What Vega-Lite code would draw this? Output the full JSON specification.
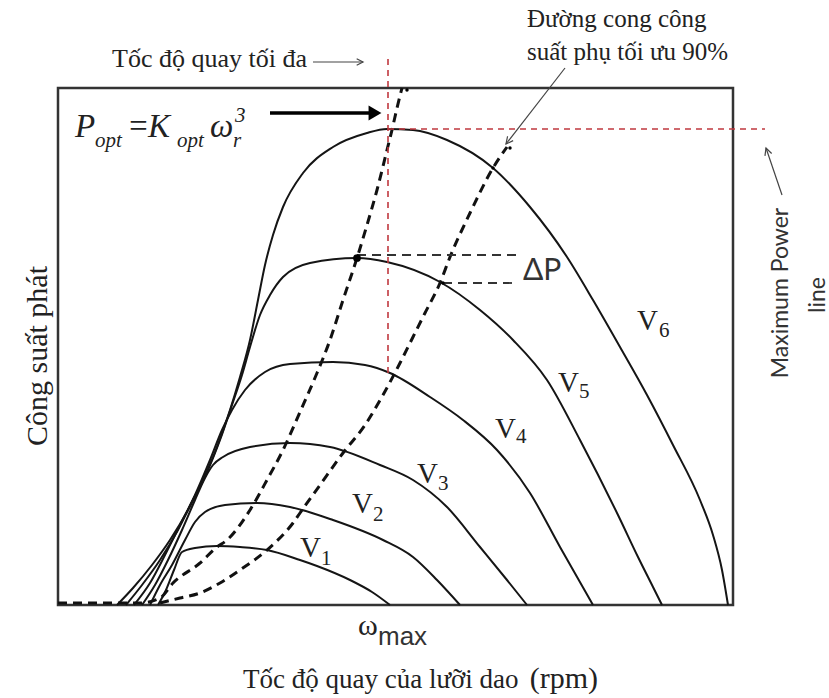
{
  "$schema": "https://vega.github.io/schema/vega-lite/v6.json",
  "width": 675,
  "height": 517,
  "autosize": {"type": "none"},
  "padding": {"left": 58, "top": 88, "right": 96, "bottom": 93},
  "background": "white",
  "config": {"view": {"stroke": "#333", "strokeWidth": 2.5}},
  "encoding": {
    "x": {"field": "x", "type": "quantitative", "scale": {"domain": [0, 675], "nice": false, "zero": false}, "axis": null},
    "y": {"field": "y", "type": "quantitative", "scale": {"domain": [0, 517], "nice": false, "zero": false}, "axis": null}
  },
  "layer": [
    {
      "data": {"values": [
        {"c":"V1","x":100,"y":0},{"c":"V1","x":108,"y":15},{"c":"V1","x":116,"y":35},{"c":"V1","x":124,"y":53},{"c":"V1","x":137,"y":57},{"c":"V1","x":159,"y":59},{"c":"V1","x":182,"y":58},{"c":"V1","x":209,"y":55},{"c":"V1","x":242,"y":45},{"c":"V1","x":259,"y":39},{"c":"V1","x":292,"y":25},{"c":"V1","x":314,"y":13},{"c":"V1","x":332,"y":0},
        {"c":"V2","x":92,"y":0},{"c":"V2","x":102,"y":20},{"c":"V2","x":114,"y":40},{"c":"V2","x":127,"y":65},{"c":"V2","x":137,"y":83},{"c":"V2","x":147,"y":93},{"c":"V2","x":167,"y":100},{"c":"V2","x":199,"y":102},{"c":"V2","x":232,"y":98},{"c":"V2","x":275,"y":85},{"c":"V2","x":325,"y":65},{"c":"V2","x":355,"y":48},{"c":"V2","x":379,"y":25},{"c":"V2","x":402,"y":0},
        {"c":"V3","x":84,"y":0},{"c":"V3","x":97,"y":20},{"c":"V3","x":110,"y":45},{"c":"V3","x":124,"y":75},{"c":"V3","x":137,"y":105},{"c":"V3","x":147,"y":127},{"c":"V3","x":155,"y":140},{"c":"V3","x":165,"y":148},{"c":"V3","x":192,"y":158},{"c":"V3","x":232,"y":162},{"c":"V3","x":272,"y":158},{"c":"V3","x":322,"y":140},{"c":"V3","x":355,"y":125},{"c":"V3","x":389,"y":98},{"c":"V3","x":422,"y":58},{"c":"V3","x":449,"y":25},{"c":"V3","x":469,"y":0},
        {"c":"V4","x":76,"y":0},{"c":"V4","x":92,"y":22},{"c":"V4","x":107,"y":50},{"c":"V4","x":122,"y":80},{"c":"V4","x":137,"y":110},{"c":"V4","x":152,"y":145},{"c":"V4","x":164,"y":175},{"c":"V4","x":174,"y":195},{"c":"V4","x":187,"y":215},{"c":"V4","x":207,"y":233},{"c":"V4","x":232,"y":241},{"c":"V4","x":275,"y":243},{"c":"V4","x":307,"y":240},{"c":"V4","x":332,"y":232},{"c":"V4","x":372,"y":208},{"c":"V4","x":405,"y":185},{"c":"V4","x":439,"y":155},{"c":"V4","x":472,"y":112},{"c":"V4","x":502,"y":58},{"c":"V4","x":535,"y":0},
        {"c":"V5","x":68,"y":0},{"c":"V5","x":84,"y":20},{"c":"V5","x":102,"y":45},{"c":"V5","x":120,"y":75},{"c":"V5","x":135,"y":105},{"c":"V5","x":150,"y":135},{"c":"V5","x":162,"y":165},{"c":"V5","x":174,"y":200},{"c":"V5","x":184,"y":230},{"c":"V5","x":192,"y":258},{"c":"V5","x":202,"y":290},{"c":"V5","x":212,"y":310},{"c":"V5","x":225,"y":328},{"c":"V5","x":252,"y":342},{"c":"V5","x":299,"y":347},{"c":"V5","x":329,"y":343},{"c":"V5","x":382,"y":323},{"c":"V5","x":422,"y":295},{"c":"V5","x":455,"y":265},{"c":"V5","x":489,"y":225},{"c":"V5","x":522,"y":165},{"c":"V5","x":560,"y":90},{"c":"V5","x":580,"y":48},{"c":"V5","x":595,"y":18},{"c":"V5","x":604,"y":0},
        {"c":"V6","x":59,"y":0},{"c":"V6","x":75,"y":17},{"c":"V6","x":94,"y":40},{"c":"V6","x":112,"y":65},{"c":"V6","x":130,"y":95},{"c":"V6","x":145,"y":125},{"c":"V6","x":159,"y":158},{"c":"V6","x":172,"y":195},{"c":"V6","x":182,"y":228},{"c":"V6","x":192,"y":265},{"c":"V6","x":200,"y":305},{"c":"V6","x":207,"y":340},{"c":"V6","x":215,"y":370},{"c":"V6","x":225,"y":398},{"c":"V6","x":245,"y":432},{"c":"V6","x":275,"y":458},{"c":"V6","x":309,"y":472},{"c":"V6","x":329,"y":476},{"c":"V6","x":355,"y":475},{"c":"V6","x":389,"y":465},{"c":"V6","x":435,"y":437},{"c":"V6","x":472,"y":398},{"c":"V6","x":509,"y":348},{"c":"V6","x":535,"y":305},{"c":"V6","x":562,"y":258},{"c":"V6","x":589,"y":210},{"c":"V6","x":615,"y":160},{"c":"V6","x":642,"y":105},{"c":"V6","x":655,"y":70},{"c":"V6","x":664,"y":35},{"c":"V6","x":670,"y":0}
      ]},
      "mark": {"type": "line", "color": "#151515", "strokeWidth": 2, "interpolate": "monotone"},
      "encoding": {"detail": {"field": "c"}}
    },
    {
      "data": {"values": [
        {"c":"opt","x":0,"y":2},{"c":"opt","x":42,"y":2},{"c":"opt","x":82,"y":2},{"c":"opt","x":102,"y":7},{"c":"opt","x":115,"y":22},{"c":"opt","x":142,"y":42},{"c":"opt","x":159,"y":58},{"c":"opt","x":169,"y":65},{"c":"opt","x":192,"y":95},{"c":"opt","x":209,"y":125},{"c":"opt","x":225,"y":155},{"c":"opt","x":242,"y":193},{"c":"opt","x":259,"y":232},{"c":"opt","x":272,"y":265},{"c":"opt","x":285,"y":305},{"c":"opt","x":299,"y":347},{"c":"opt","x":309,"y":380},{"c":"opt","x":319,"y":415},{"c":"opt","x":329,"y":455},{"c":"opt","x":334,"y":475},{"c":"opt","x":339,"y":497},{"c":"opt","x":344,"y":517},
        {"c":"p90","x":102,"y":2},{"c":"p90","x":122,"y":7},{"c":"p90","x":142,"y":12},{"c":"p90","x":162,"y":22},{"c":"p90","x":182,"y":35},{"c":"p90","x":209,"y":55},{"c":"p90","x":235,"y":82},{"c":"p90","x":242,"y":92},{"c":"p90","x":262,"y":120},{"c":"p90","x":285,"y":152},{"c":"p90","x":307,"y":180},{"c":"p90","x":325,"y":210},{"c":"p90","x":342,"y":242},{"c":"p90","x":355,"y":268},{"c":"p90","x":367,"y":292},{"c":"p90","x":382,"y":322},{"c":"p90","x":392,"y":348},{"c":"p90","x":412,"y":392},{"c":"p90","x":435,"y":437},{"c":"p90","x":449,"y":458}
      ]},
      "mark": {"type": "line", "color": "#111", "strokeWidth": 3, "strokeDash": [9, 6], "interpolate": "monotone"},
      "encoding": {"detail": {"field": "c"}}
    },
    {
      "data": {"values": [{"x":330,"y":232,"x2":330,"y2":550},{"x":330,"y":476,"x2":707,"y2":476}]},
      "mark": {"type": "rule", "color": "#c0393f", "strokeWidth": 1.6, "strokeDash": [6, 5]},
      "encoding": {"x2": {"field": "x2"}, "y2": {"field": "y2"}}
    },
    {
      "data": {"values": [{"x":299,"y":350,"x2":459,"y2":350},{"x":385,"y":322,"x2":459,"y2":322}]},
      "mark": {"type": "rule", "color": "#333", "strokeWidth": 1.8, "strokeDash": [9, 6]},
      "encoding": {"x2": {"field": "x2"}, "y2": {"field": "y2"}}
    },
    {
      "data": {"values": [{"x":212,"y":492,"x2":315,"y2":492}]},
      "mark": {"type": "rule", "color": "#000", "strokeWidth": 3.5},
      "encoding": {"x2": {"field": "x2"}, "y2": {"field": "y2"}}
    },
    {
      "data": {"values": [{"x":317,"y":492}]},
      "mark": {"type": "point", "shape": "triangle-right", "filled": true, "color": "#000", "size": 220, "opacity": 1}
    },
    {
      "data": {"values": [{"x":255,"y":543,"x2":305,"y2":543},{"x":507,"y":537,"x2":448,"y2":461},{"x":724,"y":410,"x2":708,"y2":457}]},
      "mark": {"type": "rule", "color": "#444", "strokeWidth": 1.2},
      "encoding": {"x2": {"field": "x2"}, "y2": {"field": "y2"}}
    },
    {
      "data": {"values": [{"x":305,"y":543}]},
      "mark": {"type": "point", "shape": "M -1 -0.5 L 0 0 L -1 0.5", "filled": false, "stroke": "#444", "strokeWidth": 1.2, "size": 160, "opacity": 1, "angle": 0}
    },
    {
      "data": {"values": [{"x":448,"y":461}]},
      "mark": {"type": "point", "shape": "M -1 -0.5 L 0 0 L -1 0.5", "filled": false, "stroke": "#444", "strokeWidth": 1.2, "size": 200, "opacity": 1, "angle": 128}
    },
    {
      "data": {"values": [{"x":708,"y":457}]},
      "mark": {"type": "point", "shape": "M -1 -0.5 L 0 0 L -1 0.5", "filled": false, "stroke": "#444", "strokeWidth": 1.2, "size": 200, "opacity": 1, "angle": 251}
    },
    {
      "data": {"values": [{"x":299,"y":347}]},
      "mark": {"type": "point", "filled": true, "color": "#000", "size": 60, "opacity": 1}
    },
    {
      "data": {"values": [{"x":385,"y":322},{"x":435,"y":437},{"x":349,"y":515},{"x":452,"y":457}]},
      "mark": {"type": "point", "filled": true, "color": "#000", "size": 12, "opacity": 1}
    },
    {
      "data": {"values": [{"x":54,"y":538,"t":"Tốc độ quay tối đa"}]},
      "mark": {"type": "text", "font": "Liberation Serif", "fontSize": 26, "align": "left", "baseline": "alphabetic", "color": "#222"},
      "encoding": {"text": {"field": "t"}}
    },
    {
      "data": {"values": [{"x":469,"y":578,"t":"Đường cong công"},{"x":469,"y":545,"t":"suất phụ tối ưu 90%"}]},
      "mark": {"type": "text", "font": "Liberation Serif", "fontSize": 25, "align": "left", "baseline": "alphabetic", "color": "#222"},
      "encoding": {"text": {"field": "t"}}
    },
    {
      "data": {"values": [{"x":17,"y":468,"t":"P"},{"x":69,"y":468,"t":"="},{"x":90,"y":468,"t":"K"},{"x":152,"y":468,"t":"ω"}]},
      "mark": {"type": "text", "font": "Liberation Serif", "fontSize": 33, "fontStyle": "italic", "align": "left", "baseline": "alphabetic", "color": "#222"},
      "encoding": {"text": {"field": "t"}}
    },
    {
      "data": {"values": [{"x":37,"y":458,"t":"opt"},{"x":119,"y":458,"t":"opt"},{"x":175,"y":458,"t":"r"},{"x":177,"y":483,"t":"3"}]},
      "mark": {"type": "text", "font": "Liberation Serif", "fontSize": 21, "fontStyle": "italic", "align": "left", "baseline": "alphabetic", "color": "#222"},
      "encoding": {"text": {"field": "t"}}
    },
    {
      "data": {"values": [{"x":242,"y":48,"t":"V"},{"x":294,"y":92,"t":"V"},{"x":359,"y":122,"t":"V"},{"x":437,"y":167,"t":"V"},{"x":500,"y":213,"t":"V"},{"x":579,"y":275,"t":"V"}]},
      "mark": {"type": "text", "font": "Liberation Serif", "fontSize": 29, "align": "left", "baseline": "alphabetic", "color": "#222"},
      "encoding": {"text": {"field": "t"}}
    },
    {
      "data": {"values": [{"x":263,"y":40,"t":"1"},{"x":315,"y":84,"t":"2"},{"x":380,"y":115,"t":"3"},{"x":458,"y":162,"t":"4"},{"x":521,"y":207,"t":"5"},{"x":601,"y":268,"t":"6"}]},
      "mark": {"type": "text", "font": "Liberation Serif", "fontSize": 21, "align": "left", "baseline": "alphabetic", "color": "#222"},
      "encoding": {"text": {"field": "t"}}
    },
    {
      "data": {"values": [{"x":300,"y":-30,"t":"ω"}]},
      "mark": {"type": "text", "font": "Liberation Serif", "fontSize": 30, "align": "left", "baseline": "alphabetic", "color": "#222"},
      "encoding": {"text": {"field": "t"}}
    },
    {
      "data": {"values": [{"x":320,"y":-40,"t":"max"}]},
      "mark": {"type": "text", "font": "Liberation Sans", "fontSize": 26, "align": "left", "baseline": "alphabetic", "color": "#333"},
      "encoding": {"text": {"field": "t"}}
    },
    {
      "data": {"values": [{"x":465,"y":325,"t":"ΔP"}]},
      "mark": {"type": "text", "font": "Lato", "fontSize": 30, "align": "left", "baseline": "alphabetic", "color": "#333"},
      "encoding": {"text": {"field": "t"}}
    },
    {
      "data": {"values": [{"x":730,"y":312,"t":"Maximum Power"},{"x":767,"y":310,"t":"line"}]},
      "mark": {"type": "text", "font": "Lato", "fontSize": 23, "angle": 270, "align": "center", "baseline": "alphabetic", "color": "#333"},
      "encoding": {"text": {"field": "t"}}
    },
    {
      "data": {"values": [{"x":-11,"y":249,"t":"Công suất phát"}]},
      "mark": {"type": "text", "font": "Liberation Serif", "fontSize": 30, "angle": 270, "align": "center", "baseline": "alphabetic", "color": "#222"},
      "encoding": {"text": {"field": "t"}}
    },
    {
      "data": {"values": [{"x":185,"y":-83,"t":"Tốc độ quay của lưỡi dao"}]},
      "mark": {"type": "text", "font": "Liberation Serif", "fontSize": 27, "align": "left", "baseline": "alphabetic", "color": "#222"},
      "encoding": {"text": {"field": "t"}}
    },
    {
      "data": {"values": [{"x":540,"y":-83,"t":"(rpm)"}]},
      "mark": {"type": "text", "font": "Liberation Serif", "fontSize": 30, "align": "right", "baseline": "alphabetic", "color": "#222"},
      "encoding": {"text": {"field": "t"}}
    }
  ]
}
